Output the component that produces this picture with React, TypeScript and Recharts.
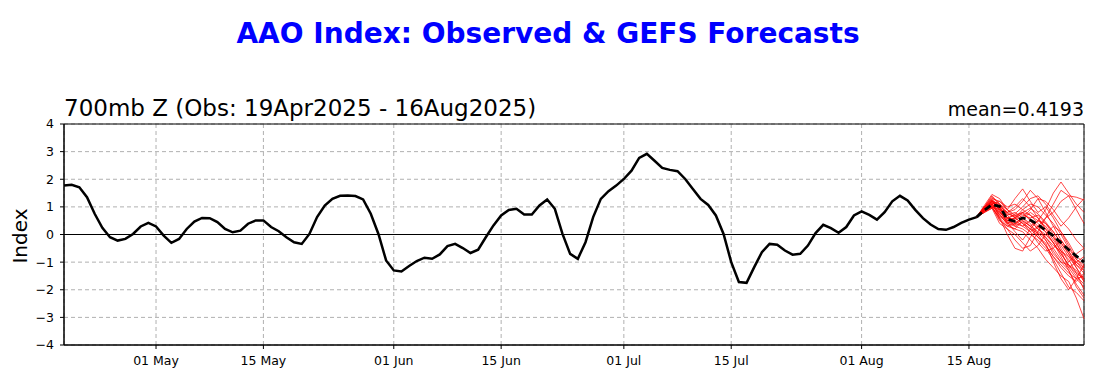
import { LineChart, Line, XAxis, YAxis, CartesianGrid, ReferenceLine, ReferenceArea } from 'recharts'

// observed AAO index, one value per day from 19 Apr 2025 (day 0) to 16 Aug 2025 (day 119)
const obsIndex = [
  1.77, 1.8, 1.71, 1.35, 0.75, 0.24, -0.1, -0.22, -0.16, 0.02,
  0.29, 0.42, 0.29, -0.04, -0.3, -0.16, 0.2, 0.47, 0.6, 0.59,
  0.45, 0.2, 0.08, 0.14, 0.39, 0.51, 0.51, 0.27, 0.12, -0.1,
  -0.28, -0.34, 0.02, 0.63, 1.05, 1.29, 1.4, 1.41, 1.39, 1.27,
  0.75, 0.02, -0.94, -1.3, -1.34, -1.14, -0.96, -0.84, -0.88, -0.72,
  -0.42, -0.34, -0.49, -0.67, -0.55, -0.1, 0.33, 0.69, 0.89, 0.93,
  0.72, 0.72, 1.05, 1.27, 0.93, 0.02, -0.7, -0.88, -0.28, 0.63,
  1.29, 1.57, 1.77, 2.01, 2.31, 2.77, 2.92, 2.67, 2.41, 2.34,
  2.29, 2.01, 1.65, 1.29, 1.07, 0.69, 0.02, -1.0, -1.72, -1.75,
  -1.18, -0.64, -0.34, -0.37, -0.58, -0.73, -0.7, -0.4, 0.05, 0.35,
  0.23, 0.06, 0.27, 0.69, 0.84, 0.71, 0.54, 0.81, 1.2, 1.4,
  1.23, 0.89, 0.59, 0.36, 0.2, 0.17, 0.27, 0.42, 0.54, 0.63,
]

// GEFS forecasts, days 119..133
const ensMean = [0.63, 0.88, 1.08, 1.02, 0.55, 0.48, 0.6, 0.52, 0.36, 0.15, -0.05, -0.3, -0.55, -0.78, -1.0]

const m01 = [0.63, 0.95, 1.2, 0.9, 0.6, 0.55, 0.8, 0.7, 0.4, 0.1, -0.3, -0.7, -1.1, -1.4, -1.6]
const m02 = [0.63, 0.85, 1.05, 0.7, 0.4, 0.3, 0.45, 0.2, 0.05, -0.2, -0.6, -1.0, -1.3, -1.8, -2.2]
const m03 = [0.63, 1.0, 1.35, 1.1, 0.8, 0.9, 1.2, 1.6, 1.3, 0.8, 0.3, -0.2, -0.6, -1.0, -1.3]
const m04 = [0.63, 0.8, 0.95, 0.4, 0.2, -0.2, -0.5, -0.4, 0.1, 0.6, 1.1, 1.6, 1.4, 0.9, 0.4]
const m05 = [0.63, 0.9, 1.1, 1.2, 0.9, 0.7, 0.5, 0.3, 0.1, -0.1, -0.4, -0.6, -0.8, -1.0, -1.2]
const m06 = [0.63, 0.95, 1.25, 1.0, 0.5, 0.6, 0.9, 1.1, 1.0, 0.7, 0.4, 0.0, -0.5, -0.9, -1.1]
const m07 = [0.63, 0.85, 1.0, 0.6, 0.3, 0.2, 0.1, -0.2, -0.5, -0.9, -1.2, -1.5, -1.7, -2.3, -3.05]
const m08 = [0.63, 0.9, 1.15, 0.95, 0.7, 0.8, 0.6, 0.3, 0.5, 0.9, 1.5, 1.9, 1.5, 1.1, 0.8]
const m09 = [0.63, 1.05, 1.45, 1.3, 0.9, 0.6, 0.4, 0.2, -0.1, -0.4, -0.8, -1.1, -1.4, -1.6, -1.9]
const m10 = [0.63, 0.8, 1.0, 0.5, 0.3, 0.4, 0.3, 0.5, 0.2, -0.1, -0.5, -0.9, -1.2, -1.0, -0.8]
const m11 = [0.63, 0.9, 1.2, 1.1, 0.7, 0.4, 0.6, 0.9, 1.3, 1.2, 0.9, 0.5, 0.2, -0.2, -0.5]
const m12 = [0.63, 0.85, 1.05, 0.8, 0.6, 0.3, 0.2, 0.0, -0.2, -0.5, -0.9, -1.4, -1.9, -2.1, -2.4]
const m13 = [0.63, 0.95, 1.3, 1.0, 0.8, 1.0, 1.3, 1.0, 0.6, 0.2, -0.1, -0.4, -0.8, -1.2, -1.6]
const m14 = [0.63, 0.9, 1.1, 0.7, 0.5, 0.6, 0.4, 0.1, -0.3, -0.6, -0.5, -0.2, -0.6, -1.1, -1.4]
const m15 = [0.63, 1.0, 1.3, 1.2, 1.0, 1.1, 0.9, 0.7, 0.5, 0.4, 0.1, -0.3, -0.7, -1.1, -1.3]
const m16 = [0.63, 0.85, 1.0, 0.55, 0.2, 0.0, -0.3, -0.6, -0.4, 0.0, 0.3, 0.1, -0.3, -0.8, -1.0]
const m17 = [0.63, 0.95, 1.15, 1.0, 0.6, 0.7, 0.8, 0.5, 0.2, 0.0, -0.3, -0.7, -1.1, -1.5, -1.8]
const m18 = [0.63, 0.9, 1.25, 0.85, 0.4, 0.5, 0.7, 0.6, 0.7, 0.4, 0.0, -0.5, -1.0, -0.7, -0.5]
const m19 = [0.63, 0.8, 0.95, 0.65, 0.45, 0.35, 0.55, 0.8, 0.6, 0.2, -0.2, -0.6, -0.9, -1.4, -2.0]
const m20 = [0.63, 1.0, 1.2, 0.9, 0.6, 0.5, 0.3, 0.1, 0.3, 0.6, 0.8, 1.2, 1.4, 1.35, 1.25]
const m21 = [0.63, 0.9, 1.1, 0.8, 0.5, 0.4, 0.6, 0.4, 0.0, -0.4, -0.8, -1.2, -1.5, -1.7, -1.4]
const m22 = [0.63, 0.95, 1.2, 1.05, 0.75, 0.65, 0.8, 0.95, 0.75, 0.45, 0.1, -0.3, -0.7, -1.2, -1.7]
const m23 = [0.63, 0.9, 1.15, 0.6, 0.0, -0.5, -0.6, -0.1, 0.3, 0.1, -0.3, -0.8, -1.3, -1.9, -2.3]
const m24 = [0.63, 1.0, 1.4, 1.1, 0.9, 1.3, 1.65, 1.2, 0.8, 1.0, 0.6, 0.1, -0.4, -0.9, -1.2]
const m25 = [0.63, 0.85, 1.05, 0.75, 0.35, 0.2, 0.5, 0.3, -0.1, -0.3, -1.0, -1.6, -2.0, -1.6, -1.1]
const m26 = [0.63, 0.9, 1.2, 0.95, 0.55, 0.75, 1.0, 1.3, 1.4, 1.1, 0.7, 0.3, 0.6, 1.0, 1.3]
const m27 = [0.63, 0.95, 1.1, 0.85, 0.45, 0.1, -0.2, 0.2, 0.5, 0.3, -0.1, -0.6, -1.2, -1.6, -1.5]
const m28 = [0.63, 0.85, 1.0, 0.9, 0.8, 0.6, 0.75, 0.55, 0.3, -0.2, -0.7, -1.0, -1.1, -1.3, -1.7]

const members = [
  m01, m02, m03, m04, m05, m06, m07, m08, m09, m10, m11, m12, m13, m14,
  m15, m16, m17, m18, m19, m20, m21, m22, m23, m24, m25, m26, m27, m28,
]

const tickDays = [12, 26, 43, 57, 73, 87, 104, 118]
const tickLabels = ['01 May', '15 May', '01 Jun', '15 Jun', '01 Jul', '15 Jul', '01 Aug', '15 Aug']
const yTicks = [-4, -3, -2, -1, 0, 1, 2, 3, 4]

const fcStart = 119
const lastDay = 133

const rows: Record<string, number>[] = []
for (let d = 0; d <= lastDay; d++) {
  const row: Record<string, number> = { day: d }
  if (d < obsIndex.length) row.obs = obsIndex[d]
  if (d >= fcStart) {
    row.mean = ensMean[d - fcStart]
    members.forEach((m, i) => { row[`m${i}`] = m[d - fcStart] })
  }
  rows.push(row)
}

const font = 'DejaVu Sans, sans-serif'
const tickStyle = { fontFamily: font, fontSize: 12.5, fill: '#000' }

export default function App() {
  return (
    <div style={{ position: 'absolute', left: 0, top: 0, width: 1096, height: 378, background: '#fff', fontFamily: font }}>
      <LineChart width={1096} height={378} data={rows} margin={{ top: 124, right: 12, bottom: 0, left: 0 }}>
        <CartesianGrid stroke="#b0b0b0" strokeDasharray="4 3" />
        <XAxis
          dataKey="day"
          type="number"
          domain={[0, lastDay]}
          ticks={tickDays}
          tickFormatter={(v) => tickLabels[tickDays.indexOf(v)]}
          height={33}
          tickSize={4}
          tickMargin={7}
          tick={tickStyle}
          stroke="#000"
        />
        <YAxis
          type="number"
          domain={[-4, 4]}
          ticks={yTicks}
          tickFormatter={(v) => String(v).replace('-', '\u2212')}
          width={64}
          tickSize={4}
          tickMargin={6}
          tick={tickStyle}
          stroke="#000"
        />
        <ReferenceLine y={0} stroke="#000" strokeWidth={1} />
        {members.map((_, i) => (
          <Line
            key={i}
            dataKey={`m${i}`}
            stroke="#ff0000"
            strokeOpacity={0.8}
            strokeWidth={0.9}
            dot={false}
            activeDot={false}
            type="linear"
            isAnimationActive={false}
          />
        ))}
        <Line dataKey="obs" stroke="#000" strokeWidth={2.5} dot={false} activeDot={false} type="linear" isAnimationActive={false} />
        <Line dataKey="mean" stroke="#000" strokeWidth={2.8} strokeDasharray="7 4" dot={false} activeDot={false} type="linear" isAnimationActive={false} />
        <ReferenceArea x1={0} x2={lastDay} y1={-4} y2={4} fill="none" fillOpacity={0} stroke="#000" strokeWidth={1} />
      </LineChart>
      <svg width={1096} height={378} style={{ position: 'absolute', left: 0, top: 0, pointerEvents: 'none' }}>
        <text x={548} y={43} textAnchor="middle" fontSize={28} fontWeight="bold" fill="#0000ff" fontFamily={font}>
          AAO Index: Observed &amp; GEFS Forecasts
        </text>
        <text x={64} y={116} fontSize={23} fill="#000" fontFamily={font}>
          700mb Z (Obs: 19Apr2025 - 16Aug2025)
        </text>
        <text x={1084} y={116} textAnchor="end" fontSize={19} fill="#000" fontFamily={font}>
          mean=0.4193
        </text>
        <text x={27} y={236} textAnchor="middle" fontSize={20} fill="#000" fontFamily={font} transform="rotate(-90 27 236)">
          Index
        </text>
      </svg>
    </div>
  )
}
